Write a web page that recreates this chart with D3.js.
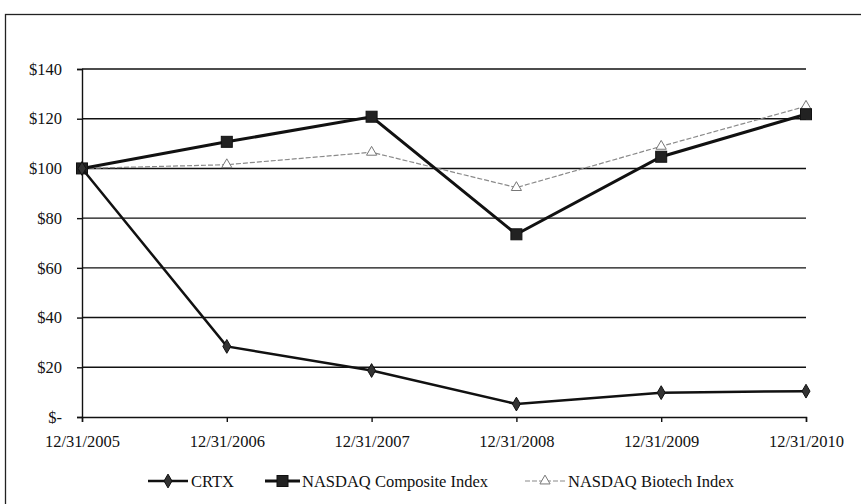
<!DOCTYPE html>
<html>
<head>
<meta charset="utf-8">
<script src="https://cdn.jsdelivr.net/npm/d3@7"></script>
<style>
html,body{margin:0;padding:0;background:#fff;}
svg text{font-family:"Liberation Serif","Times New Roman",serif;fill:#111;}
</style>
</head>
<body>
<svg id="chart" width="861" height="504"></svg>
<script>
const categories = ["12/31/2005","12/31/2006","12/31/2007","12/31/2008","12/31/2009","12/31/2010"];
const crtx = [100, 28.4, 18.7, 5.2, 9.8, 10.4];
const nasdaqComposite = [100, 110.7, 120.8, 73.5, 104.7, 121.8];
const nasdaqBiotech = [100, 101.5, 106.5, 92.3, 108.9, 125.0];
const yTicks = [0, 20, 40, 60, 80, 100, 120, 140];
const yTickLabels = ["$-", "$20", "$40", "$60", "$80", "$100", "$120", "$140"];
const seriesNames = ["CRTX", "NASDAQ Composite Index", "NASDAQ Biotech Index"];

const svg = d3.select("#chart");
const plotLeft = 82, plotRight = 806, plotTop = 69, plotBottom = 417;

// outer frame
svg.append("rect").attr("x", 5.5).attr("y", 14.5).attr("width", 900).attr("height", 600)
  .attr("fill", "none").attr("stroke", "#222").attr("stroke-width", 1.3);

const x = d3.scalePoint().domain(categories).range([plotLeft, plotRight]);
const y = d3.scaleLinear().domain([0, 140]).range([plotBottom, plotTop]);

// gridlines
svg.append("g").selectAll("line").data(yTicks.filter(d => d > 0)).join("line")
  .attr("x1", plotLeft).attr("x2", plotRight)
  .attr("y1", d => y(d)).attr("y2", d => y(d))
  .attr("stroke", "#111").attr("stroke-width", 1.4);

// y axis
const yAxis = d3.axisLeft(y).tickValues(yTicks).tickSize(5).tickPadding(15)
  .tickFormat((d, i) => yTickLabels[i]);
const gy = svg.append("g").attr("transform", `translate(${plotLeft},0)`).call(yAxis);
gy.select(".domain").attr("stroke", "#111").attr("stroke-width", 1.4);
gy.selectAll(".tick line").attr("stroke", "#111").attr("stroke-width", 1.4);
gy.selectAll(".tick text").attr("font-size", 16.5).attr("font-family", "Liberation Serif").attr("fill", "#111");

// x axis
const xAxis = d3.axisBottom(x).tickSize(5).tickPadding(13);
const gx = svg.append("g").attr("transform", `translate(0,${plotBottom})`).call(xAxis);
gx.select(".domain").attr("stroke", "#111").attr("stroke-width", 1.4);
gx.selectAll(".tick line").attr("stroke", "#111").attr("stroke-width", 1.4);
gx.selectAll(".tick text").attr("font-size", 16.5).attr("font-family", "Liberation Serif").attr("fill", "#111");

const line = d3.line().x((d, i) => x(categories[i])).y(d => y(d));

// Biotech (light, dashed)
svg.append("path").datum(nasdaqBiotech).attr("d", line)
  .attr("fill", "none").attr("stroke", "#8a8a8a").attr("stroke-width", 1.2)
  .attr("stroke-dasharray", "5,2");
const tri = d3.symbol().type(d3.symbolTriangle).size(45);
svg.append("g").selectAll("path").data(nasdaqBiotech).join("path")
  .attr("d", tri)
  .attr("transform", (d, i) => `translate(${x(categories[i])},${y(d)})`)
  .attr("fill", "#fff").attr("stroke", "#777").attr("stroke-width", 1);

// Composite
svg.append("path").datum(nasdaqComposite).attr("d", line)
  .attr("fill", "none").attr("stroke", "#111").attr("stroke-width", 3);
svg.append("g").selectAll("rect").data(nasdaqComposite).join("rect")
  .attr("x", (d, i) => x(categories[i]) - 5.5).attr("y", d => y(d) - 5.5)
  .attr("width", 11).attr("height", 11)
  .attr("fill", "#222").attr("stroke", "#111").attr("stroke-width", 1);

// CRTX
svg.append("path").datum(crtx).attr("d", line)
  .attr("fill", "none").attr("stroke", "#111").attr("stroke-width", 2.5);
const dia = d3.symbol().type(d3.symbolDiamond).size(55);
svg.append("g").selectAll("path").data(crtx).join("path")
  .attr("d", dia)
  .attr("transform", (d, i) => `translate(${x(categories[i])},${y(d)})`)
  .attr("fill", "#333").attr("stroke", "#111").attr("stroke-width", 1);

// legend
const ly = 481;
const legend = svg.append("g");
// CRTX
legend.append("line").attr("x1", 148).attr("x2", 188).attr("y1", ly).attr("y2", ly)
  .attr("stroke", "#111").attr("stroke-width", 2.5);
legend.append("path").attr("d", dia).attr("transform", `translate(168,${ly})`)
  .attr("fill", "#333").attr("stroke", "#111");
legend.append("text").attr("x", 191).attr("y", ly + 6).attr("font-size", 16.5).text(seriesNames[0]);
// Composite
legend.append("line").attr("x1", 265).attr("x2", 300).attr("y1", ly).attr("y2", ly)
  .attr("stroke", "#111").attr("stroke-width", 3);
legend.append("rect").attr("x", 277).attr("y", ly - 5.5).attr("width", 11).attr("height", 11)
  .attr("fill", "#222").attr("stroke", "#111");
legend.append("text").attr("x", 302).attr("y", ly + 6).attr("font-size", 16.5).text(seriesNames[1]);
// Biotech
legend.append("line").attr("x1", 525).attr("x2", 565).attr("y1", ly).attr("y2", ly)
  .attr("stroke", "#8a8a8a").attr("stroke-width", 1.2).attr("stroke-dasharray", "5,2");
legend.append("path").attr("d", tri).attr("transform", `translate(545,${ly})`)
  .attr("fill", "#fff").attr("stroke", "#777");
legend.append("text").attr("x", 568).attr("y", ly + 6).attr("font-size", 16.5).text(seriesNames[2]);
</script>
</body>
</html>
